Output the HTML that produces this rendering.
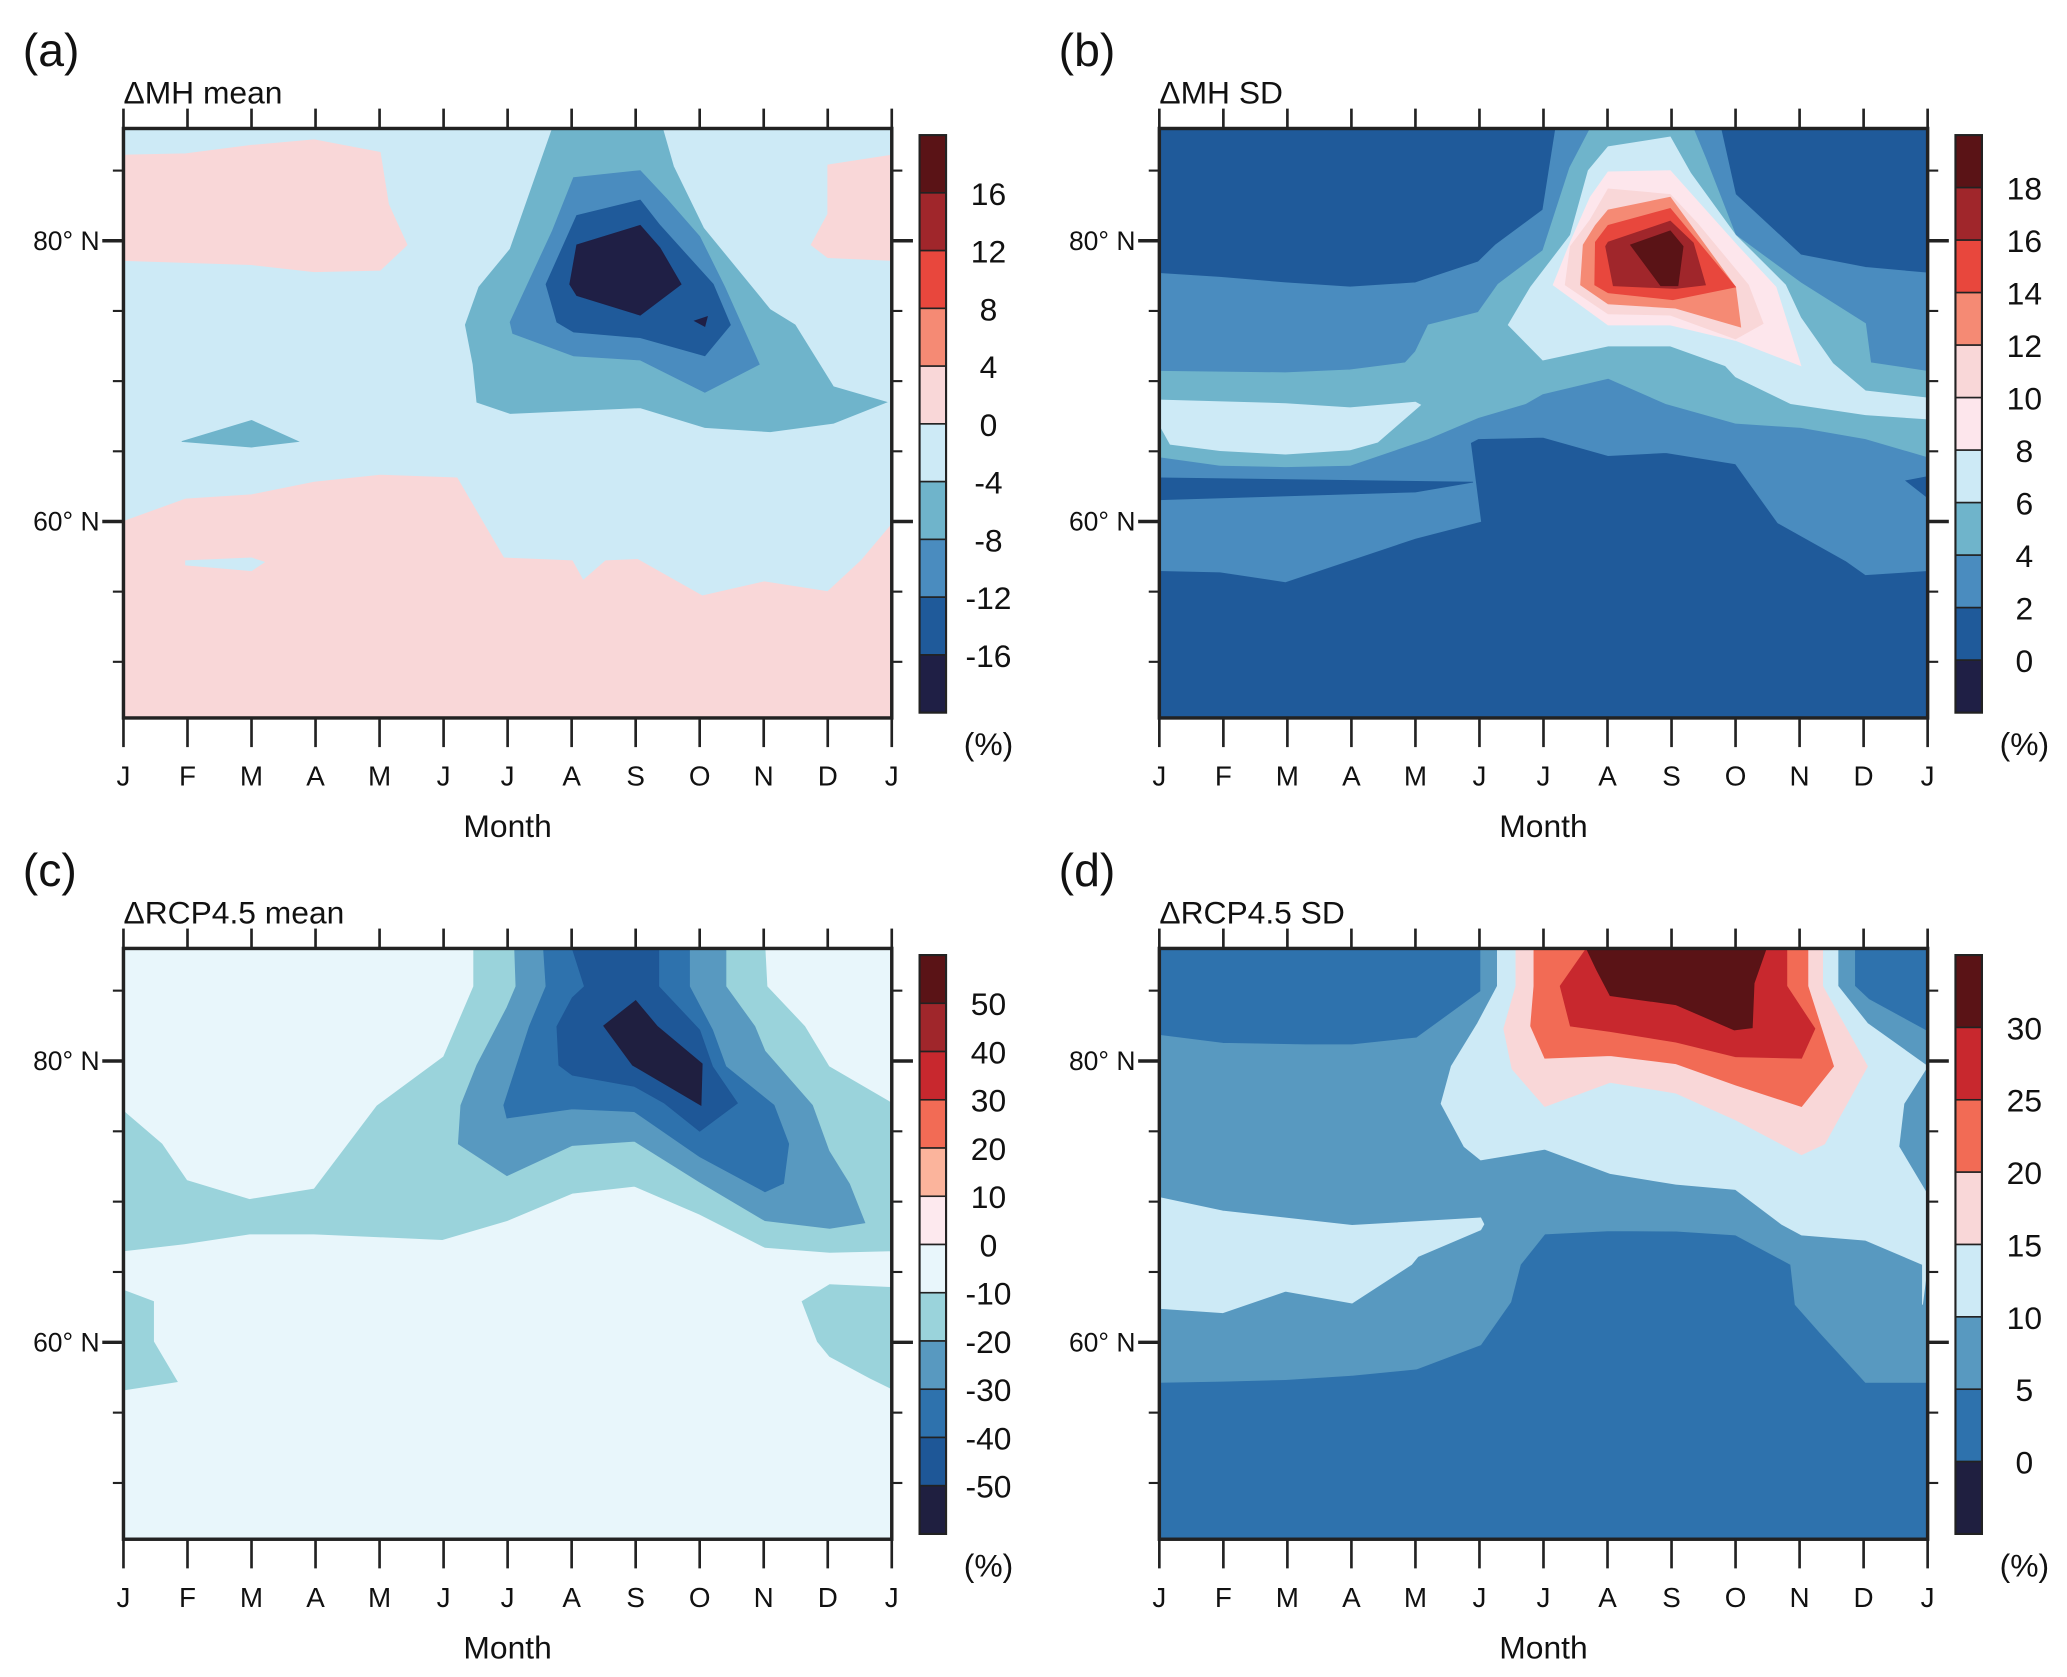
<!DOCTYPE html>
<html><head><meta charset="utf-8">
<style>
html,body{margin:0;padding:0;background:#fff;}
svg{display:block;}
text{font-family:"Liberation Sans",sans-serif;fill:#111;}
</style></head>
<body>
<svg id="fig" width="2067" height="1677" viewBox="0 0 1560 1266" xmlns="http://www.w3.org/2000/svg"></svg>
<script>
// ---------- data ----------
const months = ["J","F","M","A","M","J","J","A","S","O","N","D","J"];
const latTicks = [50,55,60,65,70,75,80,85];
const latLabels = [{lat:80,text:"80\u00b0 N"},{lat:60,text:"60\u00b0 N"}];

// Panel (a)
const aBg = "#cdeaf6";
const aColors = ["#5a1316","#a0262b","#e8473d","#f58a74","#f9d7d8","#cdeaf6","#6fb4cb","#4a8cbf","#1f5a9a","#1f1f45"];
const aTicks = ["16","12","8","4","0","-4","-8","-12","-16"];
const aPolys = [
 {c:"#f9d7d8",p:[[0,86.1],[0.97,86.2],[2,86.8],[2.98,87.2],[4.01,86.3],[4.14,82.6],[4.43,79.7],[4.01,77.9],[2.98,77.8],[2,78.3],[0,78.6]]},
 {c:"#f9d7d8",p:[[10.74,79.7],[11,81.9],[11,85.4],[12,86.1],[12,78.6],[11,78.8]]},
 {c:"#f9d7d8",p:[[0,60],[0.97,61.6],[2,61.9],[2.98,62.8],[4.01,63.3],[5.21,63.1],[5.94,57.4],[7.01,57.2],[7.18,55.8],[7.53,57.2],[8.03,57.3],[9.04,54.7],[10.01,55.7],[11,55],[11.52,57.2],[12,59.8],[12,46],[0,46]]},
 {c:"#cdeaf6",p:[[0.97,57.2],[2,57.4],[2.2,57.1],[2,56.5],[0.97,56.9]]},
 {c:"#6fb4cb",p:[[0.91,65.7],[2,67.2],[2.73,65.7],[2,65.3]]},
 {c:"#6fb4cb",p:[[6.7,88],[8.42,88],[8.59,85.3],[9.06,80.9],[10.1,75.1],[10.49,74],[11.09,69.6],[11.92,68.5],[11.09,67],[10.1,66.4],[9.08,66.7],[8.07,68.1],[6.04,67.7],[5.52,68.5],[5.46,71.2],[5.34,74],[5.55,76.7],[6.04,79.4]]},
 {c:"#4a8cbf",p:[[7.03,84.5],[8.07,85],[8.48,83],[9,80.3],[9.39,76.7],[9.93,71.2],[9.08,69.2],[8.07,71.5],[7.03,71.8],[6.08,73.4],[6.04,74.2],[6.7,80.7]]},
 {c:"#1f5a9a",p:[[7.08,81.8],[8.07,82.9],[8.38,81.1],[9.21,76.9],[9.48,74],[9.08,71.8],[8.07,73.1],[7.03,73.5],[6.77,74.2],[6.6,76.9]]},
 {c:"#1f1f45",p:[[7.08,79.7],[8.07,81.1],[8.38,79.5],[8.71,76.9],[8.07,74.7],[7.08,76.1],[6.97,76.9]]},
 {c:"#1f1f45",p:[[8.92,74.3],[9.12,74.6],[9.08,73.9]]}
];

// Panel (b)
const bBg = "#1f5a9a";
const bColors = ["#5a1316","#a0262b","#e8473d","#f58a74","#f9d7d8","#fde6ec","#cdeaf6","#6fb4cb","#4a8cbf","#1f5a9a","#1f1f45"];
const bTicks = ["18","16","14","12","10","8","6","4","2","0"];
const bPolys = [
 {c:"#4a8cbf",p:[[0,77.67],[0.95,77.4],[1.97,77],[2.98,76.7],[4,77],[4.98,78.5],[5.25,79.7],[5.99,82.2],[6.19,88],[8.77,88],[9,83.3],[10.02,79],[11.03,78.1],[12,77.7],[12,56.5],[11.03,56.2],[10.72,57.2],[9.66,59.9],[9,64.1],[7.91,64.9],[7.01,64.7],[5.99,66],[4.98,65.9],[4.86,65.6],[5.02,60],[4,58.8],[1.97,55.7],[0.95,56.4],[0,56.5]]},
 {c:"#1f5a9a",p:[[0,63.1],[4.9,62.8],[4,62.1],[0,61.55]]},
 {c:"#1f5a9a",p:[[11.66,62.9],[12,63.2],[12,61.7]]},
 {c:"#6fb4cb",p:[[6.73,88],[6.41,85.2],[5.99,79.3],[5.29,76.9],[4.98,74.9],[4.2,74],[4,72.1],[3.84,71.3],[2.98,70.8],[1.97,70.6],[0,70.7],[0,64.6],[0.95,64],[1.97,63.9],[2.98,64],[4.2,65.9],[4.98,67.4],[5.72,68.4],[5.99,69.1],[7.01,70.2],[7.91,68.4],[9,67],[10.02,66.7],[11.03,65.9],[12,64.6],[12,70.7],[11.11,71.3],[11.03,74.1],[10.02,77],[9,80.4],[8.53,85.9],[8.34,88]]},
 {c:"#cdeaf6",p:[[0,68.65],[1.97,68.4],[2.98,68.1],[4,68.5],[4.08,68.3],[3.41,65.65],[2.98,65.1],[1.97,64.8],[0.95,65.05],[0.17,65.5],[0,66.9]]},
 {c:"#cdeaf6",p:[[7.01,86.7],[7.98,87.4],[8.3,84.8],[9,80.4],[9.78,76.85],[10.02,74.5],[10.52,71.25],[11.03,69.3],[12,68.8],[12,67.3],[11.03,67.6],[9.86,68.4],[9,70.3],[8.84,71.1],[7.98,72.5],[7.01,72.5],[5.99,71.5],[5.45,74],[5.8,76.7],[6.42,80.4],[6.7,85]]},
 {c:"#fde6ec",p:[[7.01,84.9],[7.98,85],[8.45,82.6],[9.04,79.6],[9.63,76.7],[10.02,71.1],[9,72.9],[7.98,74],[7.01,74],[6.15,76.85],[6.42,79.9],[6.73,83.1]]},
 {c:"#f9d7d8",p:[[7.01,83.7],[7.98,83.3],[8.41,81.2],[9.2,76.85],[9.43,74.1],[9,73],[7.98,74.7],[7.01,74.8],[6.34,76.85],[6.42,79.6],[6.73,81.5]]},
 {c:"#f58a74",p:[[7.01,82.2],[7.98,83.1],[9,76.7],[9.08,73.85],[8.06,75.2],[7.01,75.5],[6.58,76.85],[6.62,79.7],[6.81,81.1]]},
 {c:"#e8473d",p:[[7.01,81.1],[7.98,82.3],[9,76.7],[8.02,75.8],[7.01,76.3],[6.8,76.85],[6.81,79.9]]},
 {c:"#a0262b",p:[[7.01,79.9],[7.98,81.4],[8.34,79.85],[8.53,76.85],[8.06,76.6],[7.09,76.8],[6.97,79.6]]},
 {c:"#5a1316",p:[[7.36,79.7],[7.98,80.7],[8.18,79.6],[8.1,76.8],[7.83,76.8]]}
];

// Panel (c)
const cBg = "#e8f6fb";
const cColors = ["#5a1316","#a0262b","#c8282e","#f26b55","#fbb49c","#fde9ee","#e8f6fb","#9ad3db","#5899c0","#2e72ad","#1e5797","#1f1f40"];
const cTicks = ["50","40","30","20","10","0","-10","-20","-30","-40","-50"];
const cPolys = [
 {c:"#9ad3db",p:[[0,76.44],[0.6,74.1],[0.99,71.5],[1.97,70.15],[2.98,70.9],[3.96,76.8],[5,80.3],[5.47,85.3],[5.47,88],[10.02,88],[10.05,85.3],[10.64,82.45],[11.02,79.6],[12,77],[12,66.5],[11.03,66.4],[10.02,66.75],[9,69.1],[7.98,71.1],[7.01,70.6],[5.99,68.65],[4.98,67.3],[4,67.5],[2.98,67.7],[1.97,67.7],[0.95,67],[0,66.5]]},
 {c:"#9ad3db",p:[[0,63.7],[0.47,62.9],[0.47,60.05],[0.84,57.2],[0,56.6]]},
 {c:"#9ad3db",p:[[10.6,62.9],[11.03,64.1],[12,63.9],[12,56.7],[11.66,57.45],[11.03,59],[10.84,60.05]]},
 {c:"#5899c0",p:[[6.11,88],[9.41,88],[9.41,85.3],[9.86,82.45],[10.02,80.7],[10.76,76.85],[11.02,73.6],[11.34,71.25],[11.58,68.5],[11.03,68.1],[10.02,68.65],[9,71.4],[7.98,74.3],[7.01,74],[5.99,71.85],[5.23,74.1],[5.27,76.85],[5.52,79.7],[5.99,83.8],[6.13,85.3]]},
 {c:"#2e72ad",p:[[6.56,88],[8.84,88],[8.84,85.3],[9.2,82.2],[9.41,79.6],[10.16,76.85],[10.39,74.1],[10.31,71.3],[10.02,70.7],[9,73.2],[7.98,76.4],[7.01,76.6],[5.99,75.95],[5.94,76.85],[6.34,82.45],[6.6,85.3]]},
 {c:"#1e5797",p:[[7.01,88],[8.36,88],[8.36,85.3],[9,82.2],[9.2,79.6],[9.59,77],[9,75],[8.45,77],[7.98,78.2],[7.01,79],[6.8,79.7],[6.77,82.45],[7.01,84.5],[7.2,85.3]]},
 {c:"#1f1f40",p:[[7.5,82.5],[8,84.3],[8.34,82.45],[9.04,79.8],[9.02,76.85],[7.95,79.7]]}
];

// Panel (d)
const dBg = "#2e72ad";
const dColors = ["#5a1316","#c8282e","#f26b55","#f9d7d8","#cdeaf6","#5899c0","#2e72ad","#1f1f40"];
const dTicks = ["30","25","20","15","10","5","0"];
const dPolys = [
 {c:"#5899c0",p:[[0,81.83],[0.99,81.26],[2.28,81.15],[3.01,81.15],[4.02,81.64],[5.02,84.95],[5.02,88],[10.86,88],[10.86,85.33],[11.08,84.38],[12,82.1],[12,57.15],[11.03,57.15],[10.34,60.58],[9.93,62.68],[9.86,65.53],[9,67.63],[8.07,67.9],[7.04,67.93],[6.02,67.7],[5.64,65.53],[5.49,62.87],[5.02,59.82],[4.02,58.1],[3.01,57.65],[1.97,57.35],[0.99,57.23],[0,57.15]]},
 {c:"#cdeaf6",p:[[5.28,88],[10.6,88],[10.6,85.33],[11.06,82.67],[12,79.62],[11.63,76.96],[11.55,73.91],[12,70.48],[12,65.53],[11.92,62.68],[11.92,65.53],[11.03,67.25],[10.03,67.63],[9.72,68.39],[9,70.86],[8.07,71.24],[7.04,72],[6.02,73.72],[5.02,72.96],[4.76,73.91],[4.4,76.96],[4.56,79.62],[4.97,82.67],[5.28,85.33]]},
 {c:"#cdeaf6",p:[[0,70.3],[0.99,69.34],[3.01,68.31],[5.02,68.85],[5.07,68.39],[5.02,68],[4.04,66.1],[3.94,65.53],[3.01,62.79],[1.97,63.63],[0.99,62.1],[0,62.41]]},
 {c:"#f9d7d8",p:[[5.57,88],[10.36,88],[10.36,85.33],[11.06,79.62],[10.39,74.1],[10.03,73.34],[9,75.81],[8.07,77.72],[7.04,78.48],[6.02,76.77],[5.51,79.43],[5.38,82.29],[5.57,85.33]]},
 {c:"#f26b55",p:[[5.85,88],[10.13,88],[10.13,85.33],[10.53,79.62],[10.03,76.77],[9,78.29],[8.07,79.81],[7.04,80.38],[6.02,80.19],[5.8,82.48],[5.85,85.33]]},
 {c:"#c8282e",p:[[6.67,88],[9.8,88],[9.8,85.33],[10.24,82.29],[10.03,80.19],[9,80.31],[8.07,81.34],[7.04,82.1],[6.42,82.48],[6.26,85.33]]},
 {c:"#5a1316",p:[[6.67,88],[9.48,88],[9.29,85.52],[9.26,82.36],[8.98,82.21],[8.07,84],[7.04,84.65],[6.83,86.48]]}
];

// ---------- rendering ----------
const NS = "http://www.w3.org/2000/svg";
const svg = document.getElementById("fig");
function mk(tag, attrs, parent){
  const e = document.createElementNS(NS, tag);
  for (const k in attrs) e.setAttribute(k, attrs[k]);
  (parent||svg).appendChild(e);
  return e;
}
const LAT0 = 46, LAT1 = 88;
const panels = [
  {id:"a", letter:"(a)", title:"\u0394MH mean", x:93, y:97, w:580, h:445, bg:aBg, polys:aPolys, colors:aColors, ticks:aTicks},
  {id:"b", letter:"(b)", title:"\u0394MH SD", x:875, y:97, w:580, h:445, bg:bBg, polys:bPolys, colors:bColors, ticks:bTicks},
  {id:"c", letter:"(c)", title:"\u0394RCP4.5 mean", x:93, y:716, w:580, h:446, bg:cBg, polys:cPolys, colors:cColors, ticks:cTicks},
  {id:"d", letter:"(d)", title:"\u0394RCP4.5 SD", x:875, y:716, w:580, h:446, bg:dBg, polys:dPolys, colors:dColors, ticks:dTicks}
];

panels.forEach(P => {
  const xS = m => P.x + m / 12 * P.w;
  const yS = lat => P.y + (LAT1 - lat) / (LAT1 - LAT0) * P.h;
  const g = mk("g", {});
  
  

  const clip = mk("clipPath", {id:"clip"+P.id}, g);
  mk("rect", {x:P.x, y:P.y, width:P.w, height:P.h}, clip);

  const lt = mk("text", {x:P.x - 76, y:P.y - 47, "font-size":35}, g);
  lt.textContent = P.letter;
  
  

  const tt = mk("text", {x:P.x, y:P.y - 19, "font-size":24}, g);
  tt.textContent = P.title;
  
  

  const plot = mk("g", {"clip-path":"url(#clip"+P.id+")"}, g);
  
  
  mk("rect", {x:P.x, y:P.y, width:P.w, height:P.h, fill:P.bg}, plot);
  P.polys.forEach((poly, i) => {
    const pts = poly.p.map(q => xS(q[0]).toFixed(1) + "," + yS(q[1]).toFixed(1)).join(" ");
    const pg = mk("polygon", {points:pts, fill:poly.c, stroke:poly.c, "stroke-width":0.6}, plot);
    
    
  });

  // frame
  const fr = mk("rect", {x:P.x, y:P.y, width:P.w, height:P.h, fill:"none", stroke:"#222", "stroke-width":2.6}, g);
  
  

  // month ticks top & bottom
  months.forEach((mLbl, i) => {
    const x = xS(i);
    mk("line", {x1:x, y1:P.y, x2:x, y2:P.y - 15, stroke:"#222", "stroke-width":2}, g);
    mk("line", {x1:x, y1:P.y + P.h, x2:x, y2:P.y + P.h + 22, stroke:"#222", "stroke-width":2}, g);
    const t = mk("text", {x:x, y:P.y + P.h + 51, "font-size":21, "text-anchor":"middle"}, g);
    t.textContent = mLbl;
    
    
  });
  const xt = mk("text", {x:P.x + P.w/2, y:P.y + P.h + 90, "font-size":24, "text-anchor":"middle"}, g);
  xt.textContent = "Month";
  
  

  // latitude ticks
  latTicks.forEach(lat => {
    const y = yS(lat);
    const major = (lat === 60 || lat === 80);
    const L = major ? 16 : 8;
    mk("line", {x1:P.x, y1:y, x2:P.x - L, y2:y, stroke:"#222", "stroke-width": major ? 2.6 : 1.6}, g);
    mk("line", {x1:P.x + P.w, y1:y, x2:P.x + P.w + L, y2:y, stroke:"#222", "stroke-width": major ? 2.6 : 1.6}, g);
  });
  latLabels.forEach(l => {
    const t = mk("text", {x:P.x - 18, y:yS(l.lat) + 7, "font-size":20, "text-anchor":"end"}, g);
    t.textContent = l.text;
    
    
  });

  // colorbar
  const cbx = P.x + P.w + 21, cby = P.y + 5, cbw = 20, cbh = P.h - 9;
  const n = P.colors.length, bh = cbh / n;
  const cb = mk("g", {}, g);
  
  
  P.colors.forEach((col, i) => {
    const r = mk("rect", {x:cbx, y:cby + i*bh, width:cbw, height:bh, fill:col, stroke:"#222", "stroke-width":1.2}, cb);
    
    
  });
  mk("rect", {x:cbx, y:cby, width:cbw, height:cbh, fill:"none", stroke:"#222", "stroke-width":1.6}, cb);
  P.ticks.forEach((tk, i) => {
    const t = mk("text", {x:cbx + 52, y:cby + (i+1)*bh + 9, "font-size":24, "text-anchor":"middle"}, cb);
    t.textContent = tk;
    
    
  });
  const pc = mk("text", {x:cbx + 52, y:cby + cbh + 32, "font-size":24, "text-anchor":"middle"}, cb);
  pc.textContent = "(%)";
  
  
});
</script>
</body></html>
